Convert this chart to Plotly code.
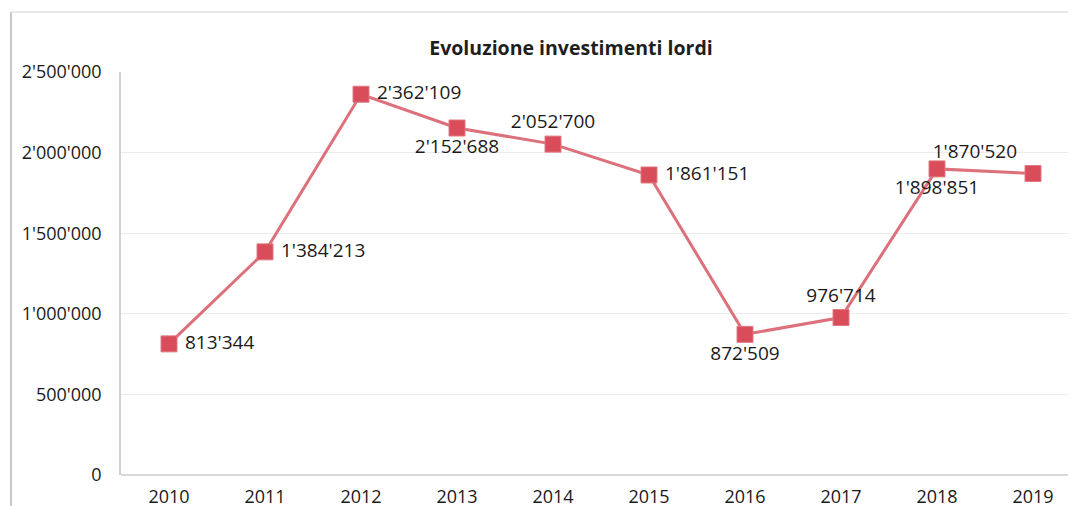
import plotly.graph_objects as go

years = ["2010", "2011", "2012", "2013", "2014", "2015", "2016", "2017", "2018", "2019"]
values = [813344, 1384213, 2362109, 2152688, 2052700, 1861151, 872509, 976714, 1898851, 1870520]
labels = ["813'344", "1'384'213", "2'362'109", "2'152'688", "2'052'700",
          "1'861'151", "872'509", "976'714", "1'898'851", "1'870'520"]
positions = ["middle right", "middle right", "middle right", "bottom center", "top center",
             "middle right", "bottom center", "top center", "bottom center", "top left"]
y_ticks = [0, 500000, 1000000, 1500000, 2000000, 2500000]
y_tick_text = ["0", "500'000", "1'000'000", "1'500'000", "2'000'000", "2'500'000"]

W, H = 1076, 506
OFF = 8  # page body margin
L, R, T, B = 121 - OFF, 0, 72 - OFF, 506 - (475 - OFF)
font = "Open Sans, DejaVu Sans, sans-serif"

fig = go.Figure()
fig.add_trace(go.Scatter(
    x=years, y=values, mode="lines+markers+text",
    text=[" " + t + " " for t in labels], textposition=positions,
    textfont=dict(family=font, size=19, color="#1a1a1a"),
    line=dict(color="#dc707b", width=3),
    marker=dict(symbol="square", size=16, color="#d94c5a",
                line=dict(color="#e07a84", width=1)),
    cliponaxis=False, showlegend=False,
))

pw = W - L - R
ph = H - T - B
fig.update_layout(
    width=W, height=H,
    margin=dict(l=L, r=R, t=T, b=B),
    paper_bgcolor="white", plot_bgcolor="white",
    title=dict(text="<b>Evoluzione investimenti lordi</b>", x=(571 - OFF) / W, xanchor="center",
               y=1 - (48 - OFF) / H, yanchor="middle",
               font=dict(family=font, size=19.5, color="#1e1e1e")),
    xaxis=dict(type="category", range=[-0.5, -0.5 + pw / 96.0],
               showgrid=False, showline=False, zeroline=False, ticks="",
               ticklabelstandoff=9,
               tickfont=dict(family=font, size=18, color="#1a1a1a")),
    yaxis=dict(range=[0, 2500000], tickvals=y_ticks, ticktext=y_tick_text,
               showgrid=True, gridcolor="#ebebeb", gridwidth=1,
               showline=True, linecolor="#d0d0d0", linewidth=1.5,
               zeroline=True, zerolinecolor="#d8d8d8", zerolinewidth=1.5,
               ticks="", ticklabelstandoff=14,
               tickfont=dict(family=font, size=18, color="#1a1a1a")),
    shapes=[
        dict(type="line", xref="paper", yref="paper",
             x0=(11 - OFF - L) / pw, x1=(11 - OFF - L) / pw,
             y0=-B / ph, y1=1 + (T - (12 - OFF)) / ph,
             line=dict(color="#c8c8c8", width=2)),
        dict(type="line", xref="paper", yref="paper",
             x0=(11 - OFF - L) / pw, x1=1,
             y0=1 + (T - (12 - OFF)) / ph, y1=1 + (T - (12 - OFF)) / ph,
             line=dict(color="#e0e0e0", width=1.5)),
    ],
)

fig.write_html("out.html")
